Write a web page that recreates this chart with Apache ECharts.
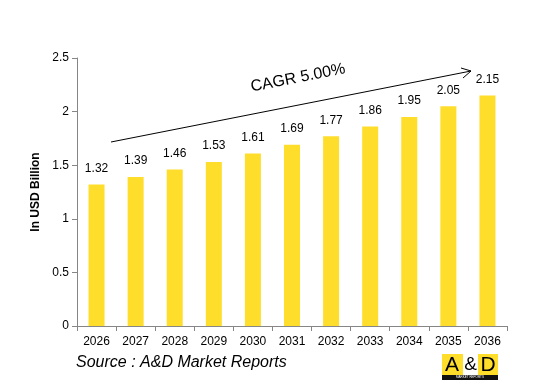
<!DOCTYPE html>
<html><head><meta charset="utf-8">
<script src="https://cdn.jsdelivr.net/npm/echarts@6/dist/echarts.min.js"></script>
<style>html,body{margin:0;padding:0;background:#fff}#c{width:549px;height:390px}</style>
</head><body><div id="c"></div>
<script>
const years = ['2026','2027','2028','2029','2030','2031','2032','2033','2034','2035','2036'];
const values = [1.32,1.39,1.46,1.53,1.61,1.69,1.77,1.86,1.95,2.05,2.15];
const yTicks = [0,0.5,1,1.5,2,2.5];
const F = 'Liberation Sans';
const chart = echarts.init(document.getElementById('c'));
chart.setOption({
  animation:false,
  grid:{left:77,right:42,top:58,bottom:64},
  xAxis:{type:'category',data:years,boundaryGap:true,
    axisLine:{lineStyle:{color:'#868686'}},
    axisTick:{show:true,alignWithLabel:false,length:5,lineStyle:{color:'#868686'}},
    axisLabel:{color:'#000',fontFamily:F,fontSize:12,margin:10}},
  yAxis:{type:'value',min:0,max:2.5,interval:0.5,
    name:'In USD Billion',nameLocation:'middle',nameGap:32,
    nameTextStyle:{fontFamily:F,fontSize:12,fontWeight:'bold',color:'#000'},
    axisLine:{show:true,lineStyle:{color:'#868686'}},
    axisTick:{show:true,length:5,lineStyle:{color:'#868686'}},
    splitLine:{show:false},
    axisLabel:{color:'#000',fontFamily:F,fontSize:12,margin:8,
      formatter:v=>yTicks.includes(v)?String(v):''}},
  series:[{type:'bar',data:values,barWidth:16,
    itemStyle:{color:'#FFDD2B'},
    label:{show:true,position:'top',distance:10,color:'#000',fontFamily:F,fontSize:12,
      formatter:p=>p.value.toFixed(2)}}],
  graphic:[
    {type:'line',shape:{x1:111,y1:142,x2:471,y2:71},style:{stroke:'#000',lineWidth:1}},
    {type:'polyline',shape:{points:[[461,68],[471,71],[463,78]]},style:{stroke:'#000',fill:null,lineWidth:1}},
    {type:'text',x:298,y:78,rotation:Math.atan2(71,360),
      style:{text:'CAGR 5.00%',fontFamily:F,fontSize:16,fill:'#000',align:'center',verticalAlign:'middle'}},
    {type:'text',x:76,y:363,style:{text:'Source : A&D Market Reports',fontFamily:F,fontSize:16,fontStyle:'italic',fill:'#000',verticalAlign:'middle'}},
    {type:'rect',shape:{x:442,y:354,width:56,height:21},style:{fill:'#FFDD2B'}},
    {type:'rect',shape:{x:463,y:354,width:15,height:21},style:{fill:'#fff'}},
    {type:'rect',shape:{x:442,y:375,width:56,height:5},style:{fill:'#111'}},
    {type:'text',x:452,y:365,style:{text:'A',fontFamily:F,fontSize:21,fill:'#000',align:'center',verticalAlign:'middle'}},
    {type:'text',x:470.5,y:365,style:{text:'&',fontFamily:F,fontSize:19,fill:'#000',align:'center',verticalAlign:'middle'}},
    {type:'text',x:488,y:365,style:{text:'D',fontFamily:F,fontSize:21,fill:'#000',align:'center',verticalAlign:'middle'}},
    {type:'text',x:470,y:377.5,style:{text:'MARKET REPORTS',fontFamily:F,fontSize:3,fill:'#fff',align:'center',verticalAlign:'middle'}}
  ]
});
</script></body></html>
